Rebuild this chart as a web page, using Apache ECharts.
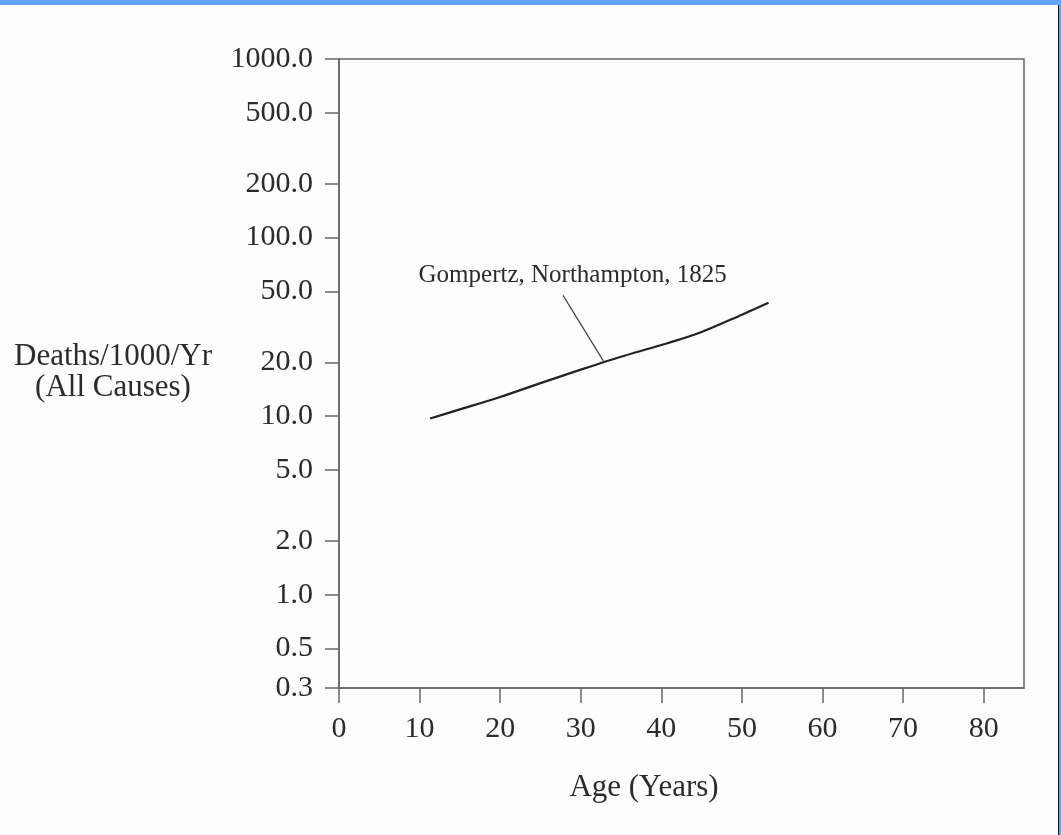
<!DOCTYPE html>
<html>
<head>
<meta charset="utf-8">
<script src="https://cdn.jsdelivr.net/npm/echarts@6/dist/echarts.min.js"></script>
<style>
  html, body { margin: 0; padding: 0; background: #ffffff; }
  #frame {
    position: relative; width: 1061px; height: 835px; box-sizing: border-box;
    border-top: 5px solid #66a3ff;
    border-right: 2px solid #66a3ff;
    background: #fdfdfd;
  }
  #edge { position: absolute; right: 0; top: 0; width: 1px; height: 830px; background: #111; }
  #chart { position: absolute; left: 0; top: -5px; width: 1061px; height: 835px; }
</style>
</head>
<body>
<div id="frame"><div id="chart"></div><div id="edge"></div></div>
<script>
// Gompertz mortality curve, Northampton table (1825)
const ages = [11.3, 15, 20, 25, 30, 35, 40, 45, 50, 53.3];
const deathRates = [9.7, 10.9, 12.8, 15.3, 18.2, 21.5, 25.0, 29.6, 37.0, 43.1];

// axis ticks
const yTickValues = [0.3, 0.5, 1, 2, 5, 10, 20, 50, 100, 200, 500, 1000];
const xTickValues = [0, 10, 20, 30, 40, 50, 60, 70, 80];

// annotation: label anchor and arrow [age, deaths/1000/yr]
const annotationText = 'Gompertz, Northampton, 1825';
const annotationAt = [29.0, 61.4];
const arrowFrom = [27.8, 47.4];
const arrowTo = [32.8, 20.4];

const lg = v => Math.log10(v);
const serif = '"Liberation Serif", "DejaVu Serif", serif';
const ink = '#2b2b2b';
const axisGrey = '#666';

const chart = echarts.init(document.getElementById('chart'), null, { renderer: 'canvas' });

chart.setOption({
  backgroundColor: 'transparent',
  animation: false,
  grid: {
    left: 339, right: 37, top: 59, bottom: 147,
    show: true, borderColor: axisGrey, borderWidth: 1.5, backgroundColor: 'transparent'
  },
  xAxis: {
    type: 'value', min: 0, max: 85,
    axisLine: { show: true, onZero: false, lineStyle: { color: axisGrey, width: 1.5 } },
    axisTick: { show: true, length: 15, customValues: xTickValues, lineStyle: { color: axisGrey, width: 1.5 } },
    axisLabel: {
      customValues: xTickValues, margin: 26,
      color: ink, fontFamily: serif, fontSize: 30
    },
    splitLine: { show: false }
  },
  yAxis: {
    type: 'value', min: lg(0.3), max: lg(1000),
    axisLine: { show: true, onZero: false, lineStyle: { color: axisGrey, width: 1.5 } },
    axisTick: { show: true, length: 14, customValues: yTickValues.map(lg), lineStyle: { color: axisGrey, width: 1.5 } },
    axisLabel: {
      customValues: yTickValues.map(lg), margin: 26,
      color: ink, fontFamily: serif, fontSize: 30,
      formatter: v => Math.pow(10, v).toFixed(1)
    },
    splitLine: { show: false }
  },
  series: [{
    type: 'line',
    data: ages.map((a, i) => [a, lg(deathRates[i])]),
    smooth: 0.3,
    showSymbol: false,
    lineStyle: { color: '#222', width: 2.2 },
    markPoint: {
      silent: true,
      symbol: 'circle', symbolSize: 0,
      label: {
        show: true, position: 'inside', color: ink,
        fontFamily: serif, fontSize: 25
      },
      data: [{ coord: [annotationAt[0], lg(annotationAt[1])], value: annotationText,
               label: { formatter: annotationText } }]
    },
    markLine: {
      silent: true,
      symbol: ['none', 'arrow'], symbolSize: [0, 7],
      label: { show: false },
      lineStyle: { color: '#444', width: 1.2, type: 'solid' },
      data: [[
        { coord: [arrowFrom[0], lg(arrowFrom[1])] },
        { coord: [arrowTo[0], lg(arrowTo[1])] }
      ]]
    }
  }],
  graphic: [
    {
      type: 'text',
      style: {
        text: 'Deaths/1000/Yr\n(All Causes)', fill: ink,
        font: '31px ' + serif, lineHeight: 31,
        textAlign: 'center', textVerticalAlign: 'middle'
      },
      position: [113, 372]
    },
    {
      type: 'text',
      style: {
        text: 'Age (Years)', fill: ink, font: '31px ' + serif,
        textAlign: 'center', textVerticalAlign: 'middle'
      },
      position: [644, 788]
    }
  ]
});
</script>
</body>
</html>
